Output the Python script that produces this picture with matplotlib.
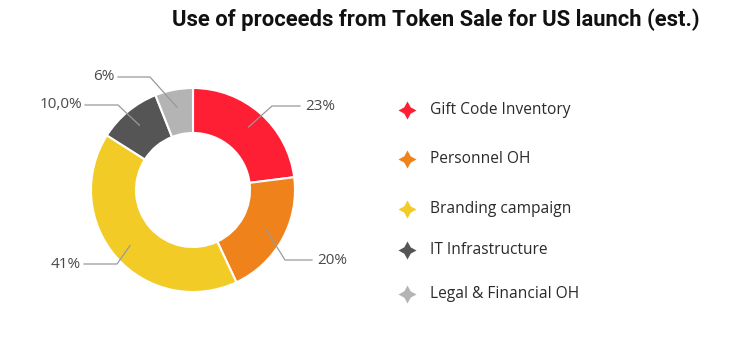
import numpy as np
import matplotlib.pyplot as plt

# shares of the token sale proceeds, clockwise from 12 o'clock
categories = ["Gift Code Inventory", "Personnel OH", "Branding campaign",
              "IT Infrastructure", "Legal & Financial OH"]
shares = [23, 20, 41, 10, 6]
pct_labels = ["23%", "20%", "41%", "10,0%", "6%"]
colors = ["#fe1f35", "#ef821b", "#f2cb27", "#555555", "#b4b4b4"]

W, H = 736, 345
fig = plt.figure(figsize=(W / 100, H / 100), dpi=100)
ax = fig.add_axes([0, 0, 1, 1])
ax.set_xlim(0, W)
ax.set_ylim(0, H)
ax.set_aspect("equal")
ax.axis("off")

cx, cy, R = 193, H - 190, 102
wedges, _ = ax.pie(shares, colors=colors, startangle=90, counterclock=False,
                   radius=R, center=(cx, cy),
                   wedgeprops=dict(width=45, edgecolor="white", linewidth=1.5))
ax.set_xlim(0, W)
ax.set_ylim(0, H)

# leader lines: (elbow x, elbow y, end x, text side)
leaders = [(272, 106, 300, "left"),
           (285, 260, 312, "left"),
           (117, 264, 84, "right"),
           (118, 105, 85, "right"),
           (150, 77, 118, "right")]
for w, lab, (ex, ey, tx, side) in zip(wedges, pct_labels, leaders):
    ang = np.deg2rad((w.theta1 + w.theta2) / 2)
    sx = cx + 84 * np.cos(ang)
    sy = cy + 84 * np.sin(ang)
    ax.plot([sx, ex, tx], [sy, H - ey, H - ey], color="#9a9a9a", lw=0.9)
    off = 5 if side == "left" else -3
    ax.text(tx + off, H - ey, lab, ha=side, va="center", fontsize=11,
            color="#4a4a4a", family="Open Sans")

# legend with four-point star markers
leg_y = [110, 159, 209, 250, 294]
for name, c, y in zip(categories, colors, leg_y):
    ax.plot(407, H - y, marker=(4, 1, 0), markersize=13, color=c,
            markeredgewidth=0)
    ax.text(430, H - y, name, ha="left", va="center", fontsize=11.2,
            color="#2a2a2a", family="Open Sans")

fig.text(436 / W, 1 - 20 / H, "Use of proceeds from Token Sale for US launch (est.)",
         ha="center", va="center", fontsize=15.8, fontweight="bold",
         color="#111111", family="Roboto")

fig.savefig("out.png", dpi=100)
